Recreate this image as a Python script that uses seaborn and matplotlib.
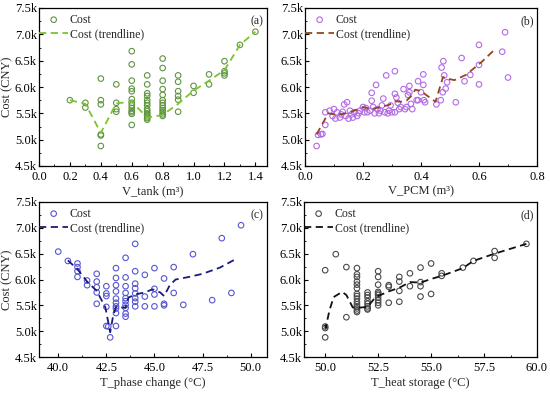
import numpy as np
import pandas as pd
import matplotlib
matplotlib.use("Agg")
import matplotlib.pyplot as plt
from matplotlib.ticker import FuncFormatter, AutoMinorLocator, MultipleLocator
import seaborn as sns

# ---------------- data (cost in thousand CNY) ----------------
# (a) V_tank
a_x = ([0.2] + [0.3]*2 + [0.4]*6 + [0.5]*4 + [0.6]*13 + [0.7]*14 + [0.8]*13
       + [0.9]*6 + [1.0]*2 + [1.1]*2 + [1.2]*4 + [1.3] + [1.4])
a_y = [5.75,
       5.70, 5.61,
       6.16, 5.75, 5.67, 5.10, 5.08, 4.88,
       6.05, 5.70, 5.58, 5.53,
       6.68, 6.43, 6.12, 5.97, 5.92, 5.77, 5.70, 5.65, 5.60, 5.55, 5.52, 5.49, 5.28,
       6.22, 6.05, 5.88, 5.83, 5.75, 5.70, 5.65, 5.58, 5.54, 5.50, 5.47, 5.44, 5.41, 5.38,
       6.54, 6.36, 6.12, 5.96, 5.85, 5.75, 5.70, 5.65, 5.60, 5.56, 5.52, 5.48, 5.45,
       6.22, 6.10, 5.92, 5.83, 5.76, 5.53,
       6.02, 5.89,
       6.24, 6.05,
       6.49, 6.30, 6.26, 6.22,
       6.80,
       7.05]
a_tx = [0.2, 0.3, 0.4, 0.5, 0.6, 0.7, 0.8, 0.9, 1.0, 1.1, 1.2, 1.3, 1.4]
a_ty = [5.75, 5.68, 5.13, 5.69, 5.72, 5.42, 5.47, 5.68, 5.93, 6.12, 6.32, 6.80, 7.05]

# (b) V_PCM
b_x = [0.040, 0.045, 0.055, 0.060, 0.070, 0.070, 0.085, 0.100, 0.095, 0.105,
       0.110, 0.120, 0.125, 0.130, 0.135, 0.145, 0.140, 0.150, 0.155, 0.160,
       0.165, 0.170, 0.180, 0.185, 0.190, 0.200, 0.205, 0.210, 0.230, 0.230,
       0.215, 0.245, 0.225, 0.235, 0.240, 0.250, 0.255, 0.260, 0.265, 0.270,
       0.280, 0.275, 0.285, 0.290, 0.295, 0.300, 0.310, 0.310, 0.310, 0.315,
       0.320, 0.325, 0.330, 0.340, 0.345, 0.350, 0.355, 0.360, 0.360, 0.365,
       0.370, 0.385, 0.390, 0.390, 0.400, 0.408, 0.408, 0.410, 0.414, 0.453,
       0.468, 0.471, 0.475, 0.477, 0.480, 0.485, 0.490, 0.520, 0.540, 0.550,
       0.570, 0.600, 0.600, 0.600, 0.680, 0.690, 0.700]
b_y = [4.88, 5.09, 5.10, 5.11, 5.28, 5.52, 5.55, 5.58, 5.45, 5.40,
       5.52, 5.42, 5.48, 5.53, 5.67, 5.71, 5.45, 5.40, 5.55, 5.48,
       5.42, 5.52, 5.45, 5.50, 5.55, 5.62, 5.52, 5.60, 5.74, 5.89,
       5.52, 6.04, 5.55, 5.62, 5.50, 5.58, 5.50, 5.55, 5.65, 5.78,
       6.22, 5.52, 5.50, 5.55, 5.65, 5.52, 6.30, 5.87, 5.52, 5.80,
       5.70, 5.58, 5.62, 5.96, 5.58, 5.62, 5.85, 6.02, 5.90, 5.68,
       5.58, 5.75, 6.11, 5.75, 5.90, 6.24, 6.04, 5.75, 5.71, 5.67,
       5.75, 6.37, 5.90, 6.49, 6.22, 5.97, 6.09, 5.71, 6.55, 6.11,
       6.23, 6.80, 6.42, 6.05, 6.67, 7.04, 6.18]
b_tx = [0.04, 0.06, 0.08, 0.11, 0.14, 0.17, 0.20, 0.23, 0.26, 0.29, 0.31, 0.33,
        0.35, 0.37, 0.38, 0.40, 0.425, 0.45, 0.476, 0.49, 0.515, 0.555, 0.61, 0.65]
b_ty = [5.10, 5.30, 5.50, 5.47, 5.50, 5.55, 5.62, 5.58, 5.62, 5.66, 5.73, 5.72,
        5.74, 5.85, 5.95, 5.92, 5.82, 5.72, 6.19, 6.16, 6.13, 6.23, 6.48, 6.69]

# (c) T_phase change
c_x = ([40.0, 40.5] + [41.0]*4 + [41.5]*2 + [42.0]*5 + [42.5]*5 + [42.6, 42.7]
       + [43.0]*10 + [43.5]*10 + [44.0]*8 + [44.5]*3 + [45.0]*4 + [45.5]*3
       + [46.0]*2 + [46.5, 47.0, 48.0, 48.5, 49.0, 49.5])
c_y = [6.54, 6.36,
       6.31, 6.24, 6.16, 6.05,
       5.98, 5.89,
       6.11, 5.96, 5.85, 5.75, 5.53,
       5.87, 5.73, 5.68, 5.47, 5.10,
       5.09, 4.88,
       6.22, 6.03, 5.89, 5.77, 5.63, 5.55, 5.48, 5.44, 5.35, 5.10,
       6.42, 6.04, 5.87, 5.74, 5.64, 5.58, 5.51, 5.45, 5.34, 5.28,
       6.69, 6.16, 5.92, 5.83, 5.73, 5.64, 5.57, 5.48,
       6.09, 5.67, 5.48,
       6.22, 5.82, 5.71, 5.48,
       6.02, 5.53, 5.50,
       6.24, 5.74,
       5.51, 6.49, 5.60, 6.80, 5.74, 7.05]
c_tx = [40.5, 41.0, 41.5, 42.0, 42.45, 42.7, 42.85, 43.0, 43.5, 43.65, 44.0, 44.5,
        44.9, 45.3, 45.5, 45.8, 46.1, 46.8, 47.5, 48.4, 49.2]
c_ty = [6.37, 6.20, 5.96, 5.78, 5.46, 4.98, 5.29, 5.47, 5.45, 5.65, 5.71, 5.75,
        5.81, 5.75, 5.68, 5.89, 6.00, 6.05, 6.11, 6.23, 6.39]

# (d) T_heat storage
d_x = ([50.0]*4 + [50.5] + [51.0]*2 + [51.5]*15 + [52.0]*8 + [52.5]*10 + [53.0]*3
       + [53.5]*4 + [54.0]*2 + [54.5]*4 + [55.0]*2 + [55.5]*2 + [56.5, 57.0]
       + [58.0]*2 + [59.5])
d_y = [6.18, 5.09, 5.06, 4.88,
       6.49,
       6.24, 5.27,
       6.22, 6.10, 6.05, 5.96, 5.90, 5.83, 5.72, 5.68, 5.63, 5.57, 5.52, 5.48, 5.44, 5.40, 5.37,
       5.75, 5.70, 5.65, 5.58, 5.53, 5.48, 5.44, 5.42,
       6.16, 6.05, 5.90, 5.76, 5.73, 5.70, 5.65, 5.60, 5.55, 5.50,
       5.89, 5.86, 5.55,
       6.05, 5.96, 5.78, 5.57,
       6.12, 5.87,
       6.23, 5.95, 5.87, 5.67,
       6.31, 5.72,
       6.12, 6.07,
       6.23, 6.36,
       6.55, 6.42,
       6.69]
d_tx = [50.0, 50.02, 50.2, 50.4, 50.6, 50.8, 51.0, 51.3, 51.5, 52.0, 52.3, 52.5,
        53.0, 53.5, 54.0, 54.5, 55.0, 55.5, 56.5, 57.0, 58.0, 59.5]
d_ty = [5.12, 5.06, 5.40, 5.66, 5.71, 5.76, 5.70, 5.46, 5.45, 5.47, 5.62, 5.68,
        5.77, 5.84, 5.95, 5.94, 6.01, 6.07, 6.22, 6.36, 6.50, 6.69]

x_labels = ["V_tank (m³)", "V_PCM (m³)", "T_phase change (°C)", "T_heat storage (°C)"]
panel_tags = ["(a)", "(b)", "(c)", "(d)"]

# ---------------- style ----------------
sns.set_style("ticks")
plt.rcParams["font.family"] = ["Liberation Serif", "DejaVu Serif"]

fig = plt.figure(figsize=(5.5, 3.93), dpi=100)
W, H = 550.0, 393.0
boxes = [(39, 8, 267, 166), (305, 8, 537, 166), (39, 202, 267, 357), (304, 202, 537, 357)]
axes = [fig.add_axes([l / W, 1 - b / H, (r - l) / W, (b - t) / H]) for (l, t, r, b) in boxes]

panels = [
    (a_x, a_y, a_tx, a_ty, "#5f9441", "#7cc52a", (0, 1.475), 0.2),
    (b_x, b_y, b_tx, b_ty, "#b36ae6", "#94461c", (0, 0.8), 0.2),
    (c_x, c_y, c_tx, c_ty, "#5656d2", "#1b1b7c", (39, 50.85), 2.5),
    (d_x, d_y, d_tx, d_ty, "#4a4a4a", "#111111", (49, 60), 2.5),
]

fmt = FuncFormatter(lambda v, p: f"{v:.1f}k")

for i, (ax, (px, py, tx, ty, mc, lc, xl, xstep)) in enumerate(zip(axes, panels)):
    sns.scatterplot(x=px, y=py, ax=ax, marker="o", s=16, color=mc,
                    facecolor="none", edgecolor=mc, linewidth=0.8, label="Cost")
    sns.lineplot(x=tx, y=ty, ax=ax, estimator=None, sort=False, color=lc,
                 linewidth=1.3, linestyle=(0, (4, 2.5)), label="Cost (trendline)")
    ax.set_xlim(*xl)
    ax.set_ylim(4.5, 7.5)
    ax.xaxis.set_major_locator(MultipleLocator(xstep))
    ax.xaxis.set_minor_locator(AutoMinorLocator(2))
    ax.yaxis.set_major_locator(MultipleLocator(0.5))
    ax.yaxis.set_minor_locator(AutoMinorLocator(2))
    ax.yaxis.set_major_formatter(fmt)
    ax.tick_params(which="both", direction="in", top=False, right=False,
                   labelsize=9, colors="black")
    ax.tick_params(axis="y", which="both", pad=1.5)
    ax.tick_params(axis="x", which="both", pad=3.5)
    ax.tick_params(which="major", length=3, width=0.8)
    ax.tick_params(which="minor", length=1.6, width=0.6)
    for s in ax.spines.values():
        s.set_color("black")
        s.set_linewidth(0.9)
    ax.set_xlabel(x_labels[i], fontsize=9, labelpad=2)
    if i in (0, 2):
        ax.set_ylabel("Cost (CNY)", fontsize=9, labelpad=1)
    else:
        ax.set_ylabel("")
    h, l = ax.get_legend_handles_labels()
    ax.legend(h, l, loc="upper left", bbox_to_anchor=(-0.012, 0.982), frameon=False,
              fontsize=8.5, borderaxespad=0.0, borderpad=0.25, labelspacing=0.2,
              handlelength=2.45, handletextpad=0.15, markerscale=1.0)
    ax.text(0.985, 0.915, panel_tags[i], transform=ax.transAxes, ha="right",
            va="center", fontsize=8.5)

fig.savefig("out.png", dpi=100)
